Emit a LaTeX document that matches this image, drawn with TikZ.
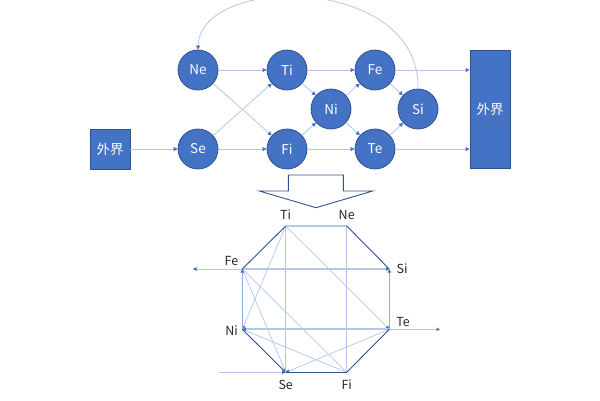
\documentclass[tikz,border=0pt]{standalone}
\usepackage{fontspec}
\setmainfont{Noto Sans CJK SC}
\usetikzlibrary{arrows.meta}
\definecolor{cfill}{HTML}{4472C4}
\definecolor{cdark}{HTML}{2F528F}
\definecolor{clight}{HTML}{B4C7E7}
\definecolor{cmid}{HTML}{8FAADC}
\definecolor{ctext}{HTML}{262626}
\begin{document}
\begin{tikzpicture}[x=1pt,y=-1pt,
  ball/.style={circle,fill=cfill,draw=cdark,line width=0.8pt,minimum size=40pt,inner sep=0pt,text=white,font=\fontsize{13.5}{14}\selectfont},
  ext/.style={rectangle,fill=cfill,draw=cdark,line width=0.8pt,inner sep=0pt,text=white,minimum width=40pt,font=\fontsize{13.5}{14}\selectfont},
  tip/.style={-{Triangle[length=4pt,width=4pt,color=cfill]}},
  flow/.style={draw=clight,line width=0.8pt,tip},
  odark/.style={draw=cdark,line width=0.9pt},
  othick/.style={draw=clight,line width=1.8pt},
  omid/.style={draw=cmid,line width=1.6pt},
  othin/.style={draw=clight,line width=0.7pt},
  btip/.style={-{Triangle[length=3.5pt,width=3.5pt,color=cfill]}},
  lbl/.style={text=ctext,inner sep=0pt,font=\fontsize{12.5}{13}\selectfont}
]
\useasboundingbox (0,0) rectangle (600,400);
% top graph
\node[ball] (Ne) at (198,70) {Ne};
\node[ball] (Ti) at (287,70) {Ti};
\node[ball] (Fe) at (375,70) {Fe};
\node[ball] (Ni) at (331,109) {Ni};
\node[ball] (Si) at (418,109) {Si};
\node[ball] (Se) at (198,149) {Se};
\node[ball] (Fi) at (287,149) {Fi};
\node[ball] (Te) at (375,149) {Te};
\node[ext,minimum height=40pt] (Lbox) at (110,149) {外界};
\node[ext,minimum height=118pt] (Rbox) at (490,109) {外界};

\draw[flow] (Lbox) -- (Se);
\draw[flow] (Ne) -- (Ti);
\draw[flow] (Ti) -- (Fe);
\draw[flow] (Se) -- (Fi);
\draw[flow] (Fi) -- (Te);
\draw[flow] (Se) -- (Ti);
\draw[flow] (Ne) -- (Fi);
\draw[flow] (Ti) -- (Ni);
\draw[flow] (Fi) -- (Ni);
\draw[flow] (Ni) -- (Fe);
\draw[flow] (Ni) -- (Te);
\draw[flow] (Fe) -- (Si);
\draw[flow] (Te) -- (Si);
\draw[flow] (Fe.east) -- (Fe.east -| Rbox.west);
\draw[flow] (Te.east) -- (Te.east -| Rbox.west);
\draw[flow] (Si.north) .. controls (420,-26) and (200,-26) .. (Ne.north);

% block arrow
\draw[cdark,line width=0.9pt,fill=white] (288.3,175) -- (343.3,175) -- (343.3,191) -- (372.7,191) -- (316,207.7) -- (259.3,191) -- (288.3,191) -- cycle;

% octagon
\coordinate (bTi) at (285.7,226);
\coordinate (bNe) at (346.7,226);
\coordinate (bSi) at (389.3,269);
\coordinate (bTe) at (389.3,329.3);
\coordinate (bFi) at (346.7,372.3);
\coordinate (bSe) at (285.7,372.3);
\coordinate (bNi) at (242.3,329.3);
\coordinate (bFe) at (242.3,269);
\coordinate (xFe) at (193,269);
\coordinate (xTe) at (440,329.3);
\coordinate (xSe) at (219,372.3);

\node[lbl] (lTi) at (285.7,215) {Ti};
\node[lbl] (lNe) at (346.7,215) {Ne};
\node[lbl] (lSi) at (402,269) {Si};
\node[lbl] (lTe) at (403,321.5) {Te};
\node[lbl] (lFi) at (346.7,385) {Fi};
\node[lbl] (lSe) at (285.7,385) {Se};
\node[lbl] (lNi) at (231.5,330.5) {Ni};
\node[lbl] (lFe) at (231.5,261) {Fe};

% thin inner lines
\draw[othin] (bTi) -- (bSe);
\draw[othin] (bNe) -- (bFi);
\draw[othin,btip] (bTi) -- (bNi);
\draw[othin,btip] (bTi) -- (bTe);
\draw[othin] (bFe) -- (bSe);
\draw[othin] (bFe) -- (bFi);
\draw[othin] (bNi) -- (bFi);
\draw[othin,btip] (bTe) -- (bSe);
% external
\draw[othin,btip] (bFe) -- (xFe);
\draw[othin,btip] (bTe) -- (xTe);
\draw[othin,btip] (xSe) -- (bSe);
% thick
\draw[othick] (bTi) -- (bNe);
\draw[othick,btip] (bFe) -- (bSi);
\draw[othick,btip] (bTe) -- (bNi);
\draw[omid,btip] (bTe) -- (bSi);
\draw[omid,btip] (bNi) -- (bFe);
% dark edges
\draw[odark] (bTi) -- (bFe);
\draw[odark] (bNe) -- (bSi);
\draw[odark] (bTe) -- (bFi);
\draw[odark] (bFi) -- (bSe);
\draw[odark,btip] (bNi) -- (bSe);
\end{tikzpicture}
\end{document}
